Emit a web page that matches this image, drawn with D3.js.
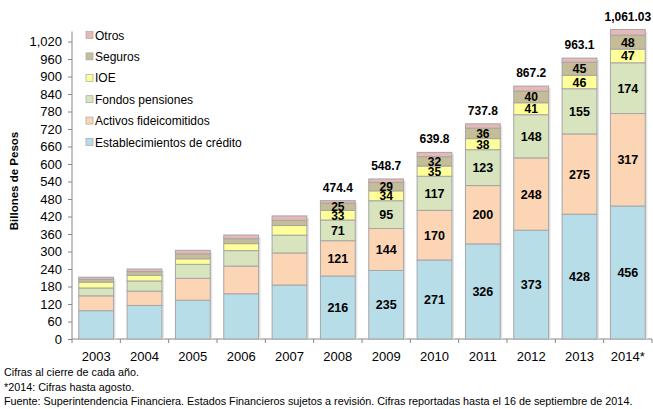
<!DOCTYPE html>
<html>
<head>
<meta charset="utf-8">
<script src="https://cdn.jsdelivr.net/npm/d3@7"></script>
<style>
  body { margin: 0; background: #fff; }
  svg text { font-family: "Liberation Sans", Arial, sans-serif; }
</style>
</head>
<body>
<div id="chart"></div>
<script>
// data (billones de pesos)
const years = ["2003","2004","2005","2006","2007","2008","2009","2010","2011","2012","2013","2014*"];
const seriesNames = ["Establecimientos de crédito","Activos fideicomitidos","Fondos pensiones","IOE","Seguros","Otros"];
const establecimientos = [97, 115, 133, 155, 185, 216, 235, 271, 326, 373, 428, 456];
const activos = [51, 49, 75, 95, 110, 121, 144, 170, 200, 248, 275, 317];
const fondos = [27, 35, 48, 53, 61, 71, 95, 117, 123, 148, 155, 174];
const ioe = [20, 19, 19, 24, 33, 33, 34, 35, 38, 41, 46, 47];
const seguros = [10, 13, 17, 17, 18, 25, 29, 32, 36, 40, 45, 48];
const otros = [7, 9, 12, 12.5, 15, 8.4, 11.7, 14.8, 14.8, 17.2, 14.1, 19.03];
const totals = [null, null, null, null, null, "474.4", "548.7", "639.8", "737.8", "867.2", "963.1", "1,061.03"];
const labeledFrom = 5; // segment values shown from 2008 on
const yTicks = d3.range(0, 1021, 60);
const notes = [
  "Cifras al cierre de cada año.",
  "*2014: Cifras hasta agosto.",
  "Fuente: Superintendencia Financiera. Estados Financieros sujetos a revisión. Cifras reportadas hasta el 16 de septiembre de 2014."
];

const colors = ["#b7dde8", "#fcd5b5", "#d7e4bd", "#ffff99", "#c4bd97", "#e6b9b8"];
const FONT = "'Liberation Sans', Arial, sans-serif";

const W = 653, H = 409;
const svg = d3.select("#chart").append("svg")
    .attr("width", W).attr("height", H);

const data = years.map((yr, i) => ({
  year: yr,
  [seriesNames[0]]: establecimientos[i],
  [seriesNames[1]]: activos[i],
  [seriesNames[2]]: fondos[i],
  [seriesNames[3]]: ioe[i],
  [seriesNames[4]]: seguros[i],
  [seriesNames[5]]: otros[i]
}));

const stack = d3.stack().keys(seriesNames)(data);

const x = d3.scaleBand()
    .domain(years)
    .range([72, 652])
    .paddingInner(0.28)
    .paddingOuter(0.14);

const y = d3.scaleLinear()
    .domain([0, 1020])
    .range([339, 41.5]);

const color = d3.scaleOrdinal().domain(seriesNames).range(colors);

// y axis
const yAxis = svg.append("g")
    .attr("transform", "translate(72,0)")
    .call(d3.axisLeft(y).tickValues(yTicks).tickFormat(d3.format(",")).tickSize(4).tickPadding(6));
yAxis.select(".domain").attr("stroke", "#868686").attr("d", `M0,${y(0)}V${y(1020) - 10}`);
yAxis.selectAll(".tick line").attr("stroke", "#868686");
yAxis.selectAll(".tick text")
    .style("font-size", "13px")
    .style("font-family", FONT)
    .attr("fill", "#000");

// x axis line + ticks at category boundaries
const step = x.step();
const xEdges = years.map(d => x(d) - step * x.paddingInner() / 2).concat([x(years[years.length - 1]) + x.bandwidth() + step * x.paddingInner() / 2]);
svg.append("line")
    .attr("x1", 72).attr("x2", xEdges[xEdges.length - 1])
    .attr("y1", y(0)).attr("y2", y(0))
    .attr("stroke", "#868686");
svg.append("g").selectAll("line")
    .data(xEdges)
    .join("line")
    .attr("x1", d => d).attr("x2", d => d)
    .attr("y1", y(0)).attr("y2", y(0) + 4)
    .attr("stroke", "#868686");

svg.append("g").selectAll("text")
    .data(years)
    .join("text")
    .attr("x", d => x(d) + x.bandwidth() / 2)
    .attr("y", 361)
    .attr("text-anchor", "middle")
    .style("font-size", "13px")
    .text(d => d);

// y title
svg.append("text")
    .attr("transform", "translate(18,181) rotate(-90)")
    .attr("text-anchor", "middle")
    .style("font-size", "11.5px")
    .style("font-weight", "bold")
    .text("Billones de Pesos");

// bar shadow
svg.append("g").selectAll("rect")
    .data(data)
    .join("rect")
    .attr("x", d => x(d.year) + 2)
    .attr("y", (d, i) => y(stack[stack.length - 1][i][1]) + 2)
    .attr("width", x.bandwidth())
    .attr("height", (d, i) => y(0) - y(stack[stack.length - 1][i][1]) - 2)
    .attr("fill", "#e3e3e3");

// bars
svg.append("g")
    .selectAll("g")
    .data(stack)
    .join("g")
    .attr("fill", d => color(d.key))
    .selectAll("rect")
    .data(d => d)
    .join("rect")
    .attr("x", d => x(d.data.year))
    .attr("y", d => y(d[1]))
    .attr("width", x.bandwidth())
    .attr("height", d => y(d[0]) - y(d[1]))
    .attr("stroke", "#a6a6a6")
    .attr("stroke-width", 1);

// segment labels (all but Otros), from 2008
stack.slice(0, 5).forEach(s => {
  svg.append("g").selectAll("text")
      .data(s.filter((d, i) => i >= labeledFrom))
      .join("text")
      .attr("x", d => x(d.data.year) + x.bandwidth() / 2)
      .attr("y", d => (y(d[0]) + y(d[1])) / 2 + 4.5)
      .attr("text-anchor", "middle")
      .style("font-size", (d) => (y(d[0]) - y(d[1]) < 13 ? "12px" : "12.5px"))
      .style("font-weight", "bold")
      .text(d => d3.format(".0f")(d[1] - d[0]));
});

// totals
svg.append("g").selectAll("text")
    .data(data.filter((d, i) => totals[i]))
    .join("text")
    .attr("x", d => x(d.year) + x.bandwidth() / 2)
    .attr("y", d => y(stack[stack.length - 1][years.indexOf(d.year)][1]) - 9)
    .attr("text-anchor", "middle")
    .style("font-size", "12px")
    .style("font-weight", "bold")
    .text(d => totals[years.indexOf(d.year)]);

// legend (reverse order)
const legend = svg.append("g").selectAll("g")
    .data(seriesNames.slice().reverse())
    .join("g")
    .attr("transform", (d, i) => `translate(86,${35 + i * 21.4})`);
legend.append("rect")
    .attr("x", 0).attr("y", -3.5)
    .attr("width", 7).attr("height", 7)
    .attr("fill", d => color(d))
    .attr("stroke", "#a6a6a6")
    .attr("stroke-width", 0.7);
legend.append("text")
    .attr("x", 9).attr("y", 4.5)
    .style("font-size", "12px")
    .text(d => d);

// footnotes
svg.append("g").selectAll("text")
    .data(notes)
    .join("text")
    .attr("x", 4)
    .attr("y", (d, i) => 376 + i * 14.5)
    .style("font-family", "'Liberation Sans Narrow', 'Arial Narrow', " + FONT)
    .style("font-size", "10.8px")
    .text(d => d);
</script>
</body>
</html>
